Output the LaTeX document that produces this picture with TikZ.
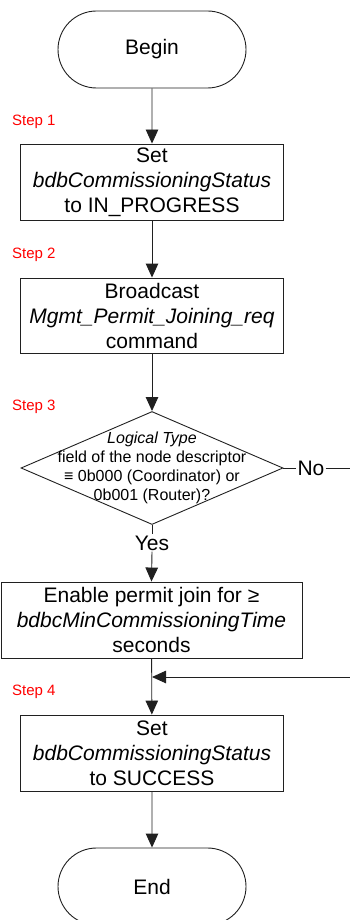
\documentclass[tikz,border=0pt]{standalone}
\usepackage{fontspec}
\setmainfont{Liberation Sans}
\usetikzlibrary{arrows.meta,shapes.misc,shapes.geometric}
\newcommand\fmain{\fontsize{21}{25}\selectfont}
\newcommand\fdia{\fontsize{16}{19}\selectfont}
\newcommand\fstep{\fontsize{15}{18}\selectfont}
\definecolor{edgegray}{HTML}{202020}
\begin{document}
\begin{tikzpicture}[x=1pt,y=-1pt,
  line/.style={draw=edgegray, line width=0.9pt},
  arrow/.style={line, -{Triangle[width=12.5pt,length=14pt]}},
  terminal/.style={line, rounded rectangle, minimum width=188pt,
    minimum height=77pt, inner sep=0pt, font=\fmain},
  process/.style={line, rectangle, minimum width=263pt, minimum height=76pt,
    inner sep=0pt, align=center, font=\fmain},
  decision/.style={line, diamond, minimum width=262pt, minimum height=113pt,
    inner sep=0pt},
  dtext/.style={align=center, inner sep=0pt, font=\fdia},
  lbl/.style={fill=white, inner sep=1pt, font=\fmain},
  steplbl/.style={anchor=west, inner sep=0pt, text=red, font=\fstep}]
\useasboundingbox (0,0) rectangle (350,920);
\clip (0,0) rectangle (350,920);

% flow nodes
\node[terminal] (begin) at (152,49.5) {Begin};
\node[process] (status1) at (152,182)
  {Set\\\textit{bdbCommissioningStatus}\\to IN\_PROGRESS};
\node[process, minimum height=75pt] (bcast) at (152,315.5)
  {Broadcast\\\textit{Mgmt\_Permit\_Joining\_req}\\command};
\node[decision] (dia) at (152,468) {};
\node[dtext] (diatext) at (dia.center)
  {\textit{Logical Type}\\field of the node descriptor\\
   ≡ 0b000 (Coordinator) or\\0b001 (Router)?};
\node[process, minimum width=301pt] (permit) at (151.5,620)
  {Enable permit join for ≥\\\textit{bdbcMinCommissioningTime}\\seconds};
\node[process] (status2) at (152,753)
  {Set\\\textit{bdbCommissioningStatus}\\to SUCCESS};
\node[terminal] (end) at (152,886.5) {End};

% step labels
\node[steplbl] (s1) at (12,122) {Step 1};
\node[steplbl] (s2) at (12,255) {Step 2};
\node[steplbl] (s3) at (12,407) {Step 3};
\node[steplbl] (s4) at (12,692) {Step 4};

% branch labels
\node[lbl] (yes) at (152,543) {Yes};
\node[lbl] (no) at (311,468) {No};

% routing points
\coordinate (noturn) at (362,468);
\coordinate (join) at (152,677);

% connectors
\draw[arrow] (begin) -- (status1);
\draw[arrow] (status1) -- (bcast);
\draw[arrow] (bcast) -- (dia.north);
\draw[line] (dia.south) -- (yes.north);
\draw[arrow] (yes.south) -- (permit.north);
\draw[line] (dia.east) -- (no.west);
\draw[arrow] (no.east) -- (noturn) |- (join);
\draw[arrow] (permit) -- (status2);
\draw[arrow] (status2) -- (end);
\end{tikzpicture}
\end{document}
